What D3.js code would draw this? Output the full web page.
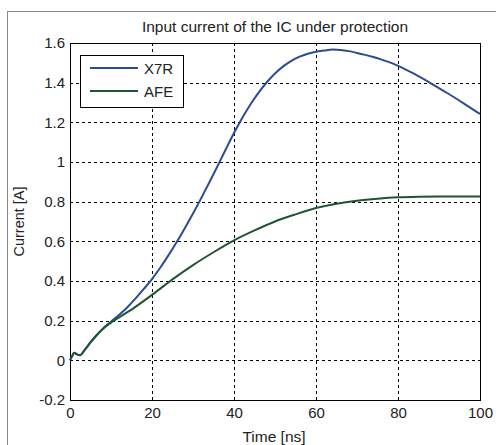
<!DOCTYPE html>
<html>
<head>
<meta charset="utf-8">
<script src="https://cdn.jsdelivr.net/npm/d3@7"></script>
<style>
  body { margin: 0; background: #fff; }
  svg { display: block; font-family: "Liberation Sans", Arial, sans-serif; }
</style>
</head>
<body>
<div id="chart"></div>
<script>
// Input current of the IC under protection

// Time samples [ns] and currents [A]
const timeX7R = [0, 0.5, 1, 1.7, 2.5, 3.5, 5, 6, 8, 10, 12, 14, 16, 18, 20, 22, 24, 26, 28, 30,
  32, 34, 36, 38, 40, 42, 44, 46, 48, 50, 52, 54, 56, 58, 60, 62, 64, 66, 68, 70,
  72, 74, 76, 78, 80, 84, 88, 92, 96, 100];
const currentX7R = [0, 0.02, 0.038, 0.03, 0.026, 0.05, 0.09, 0.115, 0.16, 0.195, 0.23, 0.268, 0.312, 0.36, 0.41, 0.467, 0.529, 0.595, 0.666, 0.74,
  0.818, 0.898, 0.98, 1.064, 1.146, 1.222, 1.29, 1.35, 1.402, 1.446, 1.482, 1.51, 1.531, 1.546, 1.556, 1.562, 1.567, 1.565, 1.559, 1.55,
  1.54, 1.529, 1.516, 1.502, 1.485, 1.444, 1.397, 1.348, 1.296, 1.242];

const timeAFE = [0, 0.5, 1, 1.7, 2.5, 3.5, 5, 6, 8, 10, 12, 15, 20, 25, 30, 35, 40, 45, 50, 55,
  60, 65, 70, 75, 80, 85, 90, 100];
const currentAFE = [0, 0.02, 0.038, 0.03, 0.026, 0.05, 0.09, 0.115, 0.158, 0.19, 0.217, 0.256, 0.33, 0.408, 0.48, 0.545, 0.605, 0.655, 0.7, 0.736,
  0.768, 0.79, 0.805, 0.815, 0.822, 0.825, 0.826, 0.826];

const seriesNames = ["X7R", "AFE"];
const seriesColors = ["#2b4c93", "#1f5533"];

const xTicks = [0, 20, 40, 60, 80, 100];
const yTicks = [-0.2, 0, 0.2, 0.4, 0.6, 0.8, 1, 1.2, 1.4, 1.6];
const yTickLabels = ["-0.2", "0", "0.2", "0.4", "0.6", "0.8", "1", "1.2", "1.4", "1.6"];

const width = 496;
const height = 445;
const margin = {top: 43, right: 16, bottom: 45, left: 70};

const svg = d3.select("#chart")
  .append("svg")
  .attr("width", width)
  .attr("height", height);

// outer figure frame
svg.append("rect")
  .attr("x", 7.5)
  .attr("y", 11.5)
  .attr("width", width)
  .attr("height", height)
  .attr("fill", "#fff")
  .attr("stroke", "#8a8a8a");

const x = d3.scaleLinear()
  .domain([0, 100])
  .range([margin.left, width - margin.right]);

const y = d3.scaleLinear()
  .domain([-0.2, 1.6])
  .range([height - margin.bottom, margin.top]);

// dashed grid
svg.append("g")
  .selectAll("line")
  .data(xTicks)
  .join("line")
    .attr("x1", d => Math.round(x(d)) + 0.5)
    .attr("x2", d => Math.round(x(d)) + 0.5)
    .attr("y1", y(1.6))
    .attr("y2", y(-0.2))
    .attr("stroke", "#000")
    .attr("stroke-dasharray", "3,3");

svg.append("g")
  .selectAll("line")
  .data(yTicks)
  .join("line")
    .attr("y1", d => Math.round(y(d)) + 0.5)
    .attr("y2", d => Math.round(y(d)) + 0.5)
    .attr("x1", x(0))
    .attr("x2", x(100))
    .attr("stroke", "#000")
    .attr("stroke-dasharray", "3,3");

// axes
const xAxis = svg.append("g")
  .attr("transform", `translate(0,${y(-0.2)})`)
  .call(d3.axisBottom(x).tickValues(xTicks).tickSize(0).tickPadding(7));

const yAxis = svg.append("g")
  .attr("transform", `translate(${x(0)},0)`)
  .call(d3.axisLeft(y).tickValues(yTicks).tickSize(0).tickPadding(5)
    .tickFormat((d, i) => yTickLabels[i]));

[xAxis, yAxis].forEach(a => {
  a.select(".domain").remove();
  a.selectAll("text")
    .attr("font-size", 15)
    .attr("font-family", "Liberation Sans, Arial, sans-serif")
    .attr("fill", "#222");
});

// plot box
svg.append("rect")
  .attr("x", x(0) + 0.5)
  .attr("y", y(1.6) + 0.5)
  .attr("width", x(100) - x(0))
  .attr("height", y(-0.2) - y(1.6))
  .attr("fill", "none")
  .attr("stroke", "#000");

// curves
const line = d3.line()
  .x(d => x(d[0]))
  .y(d => y(d[1]))
  .curve(d3.curveMonotoneX);

const series = [
  d3.zip(timeX7R, currentX7R),
  d3.zip(timeAFE, currentAFE)
];

svg.append("g")
  .selectAll("path")
  .data(series)
  .join("path")
    .attr("d", line)
    .attr("fill", "none")
    .attr("stroke", (d, i) => seriesColors[i])
    .attr("stroke-width", 2)
    .attr("stroke-linejoin", "round");

// legend
const legend = svg.append("g");

legend.append("rect")
  .attr("x", 80.5)
  .attr("y", 55.5)
  .attr("width", 103)
  .attr("height", 52)
  .attr("fill", "#fff")
  .attr("stroke", "#000");

seriesNames.forEach((name, i) => {
  const ly = 68 + i * 23;
  legend.append("line")
    .attr("x1", 90)
    .attr("x2", 138)
    .attr("y1", ly)
    .attr("y2", ly)
    .attr("stroke", seriesColors[i])
    .attr("stroke-width", 2);
  legend.append("text")
    .attr("x", 144)
    .attr("y", ly + 5.5)
    .attr("font-size", 15)
    .attr("fill", "#222")
    .text(name);
});

// titles
svg.append("text")
  .attr("x", (x(0) + x(100)) / 2)
  .attr("y", 32)
  .attr("text-anchor", "middle")
  .attr("font-size", 15.5)
  .attr("fill", "#222")
  .text("Input current of the IC under protection");

svg.append("text")
  .attr("x", (x(0) + x(100)) / 2 - 1)
  .attr("y", 442)
  .attr("text-anchor", "middle")
  .attr("font-size", 15.5)
  .attr("fill", "#222")
  .text("Time [ns]");

svg.append("text")
  .attr("transform", `translate(24,${(y(-0.2) + y(1.6)) / 2}) rotate(-90)`)
  .attr("text-anchor", "middle")
  .attr("font-size", 14.5)
  .attr("fill", "#222")
  .text("Current [A]");
</script>
</body>
</html>
